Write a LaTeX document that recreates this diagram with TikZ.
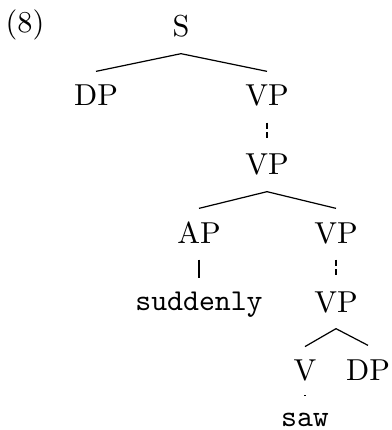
\documentclass[tikz,border=0pt]{standalone}
\begin{document}
\begin{tikzpicture}[x=0.33pt,y=-0.33pt,
  lab/.style={font=\normalsize, anchor=base, inner xsep=0pt, inner ysep=4.4pt, text height=6.83pt, text depth=0.9pt},
  wrd/.style={lab, font=\normalsize\ttfamily, text height=6pt, inner ysep=4.2pt},
  edge/.style={line width=0.4pt},
  dedge/.style={line width=0.4pt, dash pattern=on 2pt off 1.2pt}]
\useasboundingbox (0,0) rectangle (391,430);
\node[lab, text height=7.5pt] (num) at (25,33) {(8)};
\node[lab] (s) at (181,37) {S};
\node[lab] (dp1) at (96,106) {DP};
\node[lab] (vp1) at (267,106) {VP};
\node[lab] (vp2) at (267,175) {VP};
\node[lab] (ap) at (199,243) {AP};
\node[lab] (vp3) at (336,243) {VP};
\node[wrd] (sud) at (199,310) {suddenly};
\node[lab] (vp4) at (336,312) {VP};
\node[lab, inner ysep=4pt] (v) at (305,380) {V};
\node[wrd, text height=5.4pt] (saw) at (305,426) {saw};
\node[lab] (dp2) at (368,380) {DP};
\draw[edge] (s.south) -- (dp1.north);
\draw[edge] (s.south) -- (vp1.north);
\draw[dedge] (vp1.south) -- (vp2.north);
\draw[edge] (vp2.south) -- (ap.north);
\draw[edge] (vp2.south) -- (vp3.north);
\draw[edge] (ap.south) -- (sud.north);
\draw[dedge] (vp3.south) -- (vp4.north);
\draw[edge] (vp4.south) -- (v.north);
\draw[edge] (vp4.south) -- (dp2.north);
\draw[dedge] (v.south) -- (saw.north);
\end{tikzpicture}
\end{document}
